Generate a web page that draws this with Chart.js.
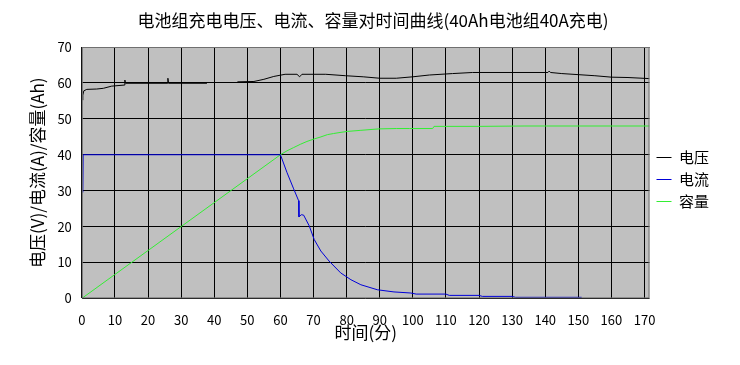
<!DOCTYPE html>
<html>
<head>
<meta charset="utf-8">
<script src="https://cdn.jsdelivr.net/npm/chart.js@4.4.1/dist/chart.umd.min.js"></script>
<style>
  html, body { margin: 0; padding: 0; background: #ffffff; }
  #wrap { width: 740px; height: 365px; position: relative; }
</style>
</head>
<body>
<div id="wrap"><canvas id="chargeChart"></canvas></div>
<script>
// series data (time in minutes)
const voltTime   = [0.3, 0.3, 0.6, 1.5, 4.5, 6.5, 9, 12.8, 13, 13.2, 20, 25.8, 26, 26.2, 30, 37.8, null, 47, 52, 55, 58, 61.4, 65, 65.8, 66.5, 73.7, 79.7, 85, 90, 95, 100, 105, 112, 118, 130, 140.8, 141.2, 141.6, 145, 150, 155, 160, 165, 171.5];
const voltValues = [55.2, 56.6, 57.8, 58.2, 58.3, 58.5, 59.1, 59.4, 60.8, 59.9, 59.9, 59.9, 61.3, 59.9, 59.9, 59.9, null, 60.3, 60.4, 61.0, 61.8, 62.4, 62.4, 61.7, 62.4, 62.4, 62.0, 61.7, 61.3, 61.3, 61.7, 62.2, 62.6, 62.9, 62.9, 62.9, 63.3, 62.9, 62.6, 62.3, 62.0, 61.6, 61.5, 61.2];

const currTime   = [0.3, 0.4, 60, 62, 64, 65.5, 65.6, 66.3, 67, 68.7, 70.2, 72.2, 74.7, 78.2, 81.3, 84.3, 89.3, 94.3, 99.4, 101, 110, 111, 120, 121, 130, 131, 151];
const currValues = [29.5, 40, 40, 35, 30.5, 27.2, 22.7, 23.3, 23.2, 20.2, 16.4, 13.2, 10.4, 7.1, 5.2, 3.8, 2.4, 1.8, 1.5, 1.2, 1.2, 0.84, 0.84, 0.56, 0.56, 0.3, 0.3];

const capTime   = [0, 60, 62, 64, 66, 68, 70.2, 72, 74.2, 76, 78, 80.3, 84.3, 89.8, 95, 99, 106, 106.4, 120, 133.6, 171.5];
const capValues = [0, 40, 41.1, 42.0, 42.9, 43.7, 44.4, 44.9, 45.6, 45.9, 46.2, 46.5, 46.8, 47.2, 47.3, 47.3, 47.3, 47.9, 47.9, 48.0, 48.0];

const seriesLabels = ['电压', '电流', '容量'];
const seriesColors = ['#000000', '#0000d8', '#33ee33'];
const xTickStep = 10;
const yTickStep = 10;

function toPoints(xs, ys) {
    return xs.map((x, i) => ({ x: x, y: ys[i] }));
}

function lineSet(idx, xs, ys) {
    return {
        label: seriesLabels[idx],
        data: toPoints(xs, ys),
        borderColor: seriesColors[idx],
        backgroundColor: seriesColors[idx],
        borderWidth: 1,
        pointRadius: 0,
        spanGaps: false
    };
}

// grey plot background + frame like the original
const plotBackground = {
    id: 'plotBackground',
    beforeDraw(chart) {
        const { ctx, chartArea: a } = chart;
        ctx.save();
        ctx.fillStyle = '#c0c0c0';
        ctx.fillRect(a.left, a.top, a.right - a.left, a.bottom - a.top);
        ctx.restore();
    },
    afterDraw(chart) {
        const { ctx, chartArea: a } = chart;
        ctx.save();
        ctx.strokeStyle = '#707070';
        ctx.lineWidth = 1;
        ctx.strokeRect(a.left + 0.5, a.top + 0.5, a.right - a.left - 1, a.bottom - a.top - 1);
        ctx.restore();
    }
};

const cjk = '"Noto Sans CJK SC", "DejaVu Sans", sans-serif';

document.addEventListener('DOMContentLoaded', function() {
    const ctx = document.getElementById('chargeChart').getContext('2d');
    new Chart(ctx, {
        type: 'line',
        data: {
            datasets: [
                lineSet(0, voltTime, voltValues),
                lineSet(1, currTime, currValues),
                lineSet(2, capTime, capValues)
            ]
        },
        options: {
            responsive: true,
            maintainAspectRatio: false,
            animation: false,
            layout: { padding: { left: 27, right: 21, top: 0, bottom: 22 } },
            plugins: {
                title: {
                    display: true,
                    text: '电池组充电电压、电流、容量对时间曲线(40Ah电池组40A充电)',
                    color: '#000000',
                    font: { family: cjk, size: 17, weight: 'normal' },
                    padding: { top: 10, bottom: 16.6 }
                },
                legend: {
                    position: 'right',
                    // empty title just pushes the items a little lower
                    title: {
                        display: true,
                        text: ' ',
                        font: { size: 10, lineHeight: '16px' },
                        padding: 0
                    },
                    labels: {
                        color: '#000000',
                        font: { family: cjk, size: 15 },
                        usePointStyle: true,
                        pointStyle: 'line',
                        pointStyleWidth: 15,
                        padding: 7,
                        generateLabels(chart) {
                            const items = Chart.defaults.plugins.legend.labels.generateLabels(chart);
                            items.forEach((item, i) => {
                                item.strokeStyle = seriesColors[i];
                                item.fillStyle = seriesColors[i];
                                item.lineWidth = 1.2;
                            });
                            return items;
                        }
                    }
                },
                tooltip: { enabled: false }
            },
            scales: {
                x: {
                    type: 'linear',
                    min: 0,
                    max: 171.5,
                    ticks: {
                        stepSize: xTickStep,
                        includeBounds: false,
                        color: '#000000',
                        font: { family: cjk, size: 13 },
                        padding: 14,
                        maxRotation: 0
                    },
                    grid: { color: '#000000', lineWidth: 1, drawTicks: false },
                    border: { display: false },
                    title: {
                        display: true,
                        text: '时间(分)',
                        color: '#000000',
                        font: { family: cjk, size: 17 },
                        padding: { top: -19.4, bottom: 0 }
                    }
                },
                y: {
                    min: 0,
                    max: 70,
                    ticks: {
                        stepSize: yTickStep,
                        color: '#000000',
                        font: { family: cjk, size: 13 },
                        padding: 10
                    },
                    grid: { color: '#000000', lineWidth: 1, drawTicks: false },
                    border: { display: false },
                    title: {
                        display: true,
                        text: '电压(V)/电流(A)/容量(Ah)',
                        color: '#000000',
                        font: { family: cjk, size: 17 },
                        padding: { top: 0, bottom: 0 }
                    }
                }
            }
        },
        plugins: [plotBackground]
    });
});
</script>
</body>
</html>
